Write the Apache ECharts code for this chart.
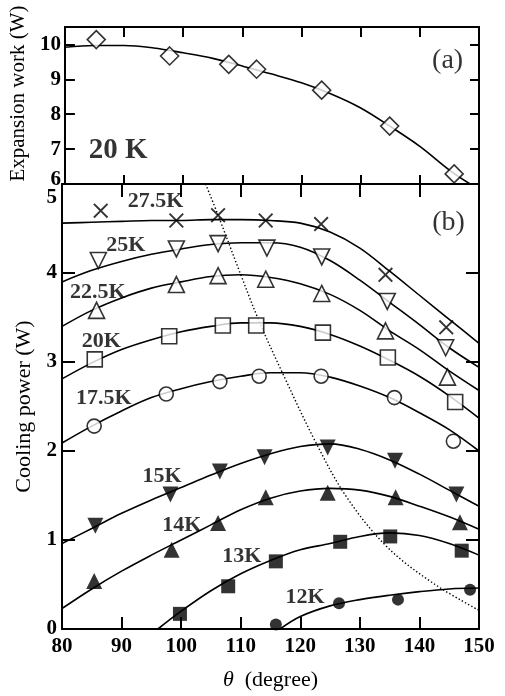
<!DOCTYPE html>
<html>
<head>
<meta charset="utf-8">
<script src="https://cdn.jsdelivr.net/npm/echarts@6/dist/echarts.min.js"></script>
<style>
  html, body { margin: 0; padding: 0; background: #fff; }
  #chart { width: 505px; height: 696px; }
</style>
</head>
<body>
<div id="chart"></div>
<script>
// ---- data ----
const xTicks = [80, 90, 100, 110, 120, 130, 140, 150];

// (a) expansion work at 20 K
const workPts = [[85.3, 10.14], [97.7, 9.67], [107.7, 9.43], [112.4, 9.29], [123.4, 8.69], [134.9, 7.66], [145.8, 6.29]];
const workFit = [[80, 9.92], [85, 9.97], [90, 9.97], [95, 9.9], [100, 9.76], [105, 9.6], [110, 9.38], [115, 9.15],
  [120, 8.9], [125, 8.58], [130, 8.18], [135, 7.65], [140, 7.08], [145, 6.4], [148.5, 6.0]];

// (b) cooling power
const k275 = [[86.5, 4.70], [99.2, 4.59], [106.2, 4.65], [114.2, 4.59], [123.5, 4.55], [134.3, 3.98], [144.5, 3.39]];
const k275Fit = [[80, 4.56], [85, 4.57], [90, 4.58], [95, 4.59], [100, 4.59], [105, 4.6], [110, 4.6], [115, 4.59],
  [120, 4.56], [125, 4.46], [130, 4.28], [135, 4.02], [140, 3.75], [145, 3.48], [150, 3.21]];

const k25 = [[86.1, 4.14], [99.2, 4.27], [106.2, 4.33], [114.4, 4.28], [123.6, 4.18], [134.6, 3.68], [144.4, 3.16]];
const k25Fit = [[80, 3.9], [85, 4.03], [90, 4.13], [95, 4.21], [100, 4.27], [105, 4.32], [110, 4.34], [115, 4.34],
  [120, 4.29], [125, 4.14], [130, 3.92], [135, 3.67], [140, 3.42], [145, 3.16], [150, 2.94]];

const k225 = [[85.8, 3.58], [99.2, 3.87], [106.2, 3.97], [114.2, 3.93], [123.6, 3.77], [134.3, 3.35], [144.7, 2.83]];
const k225Fit = [[80, 3.4], [85, 3.58], [90, 3.72], [95, 3.83], [100, 3.9], [105, 3.96], [110, 3.98], [115, 3.95],
  [120, 3.88], [125, 3.76], [130, 3.58], [135, 3.35], [140, 3.14], [145, 2.9], [150, 2.68]];

const k20 = [[85.5, 3.03], [98.0, 3.29], [107.0, 3.41], [112.6, 3.41], [123.8, 3.33], [134.7, 3.05], [146.0, 2.55]];
const k20Fit = [[80, 2.81], [85, 2.99], [90, 3.14], [95, 3.25], [100, 3.34], [105, 3.4], [110, 3.44], [115, 3.44],
  [120, 3.4], [125, 3.31], [130, 3.18], [135, 3.02], [140, 2.84], [145, 2.62], [150, 2.37]];

const k175 = [[85.4, 2.28], [97.5, 2.64], [106.5, 2.78], [113.1, 2.84], [123.5, 2.84], [135.8, 2.6], [145.7, 2.11]];
const k175Fit = [[80, 2.09], [85, 2.28], [90, 2.45], [95, 2.6], [100, 2.7], [105, 2.78], [110, 2.84], [115, 2.88],
  [120, 2.88], [125, 2.83], [130, 2.73], [135, 2.6], [140, 2.43], [145, 2.24], [150, 2.0]];

const k15 = [[85.6, 1.16], [98.2, 1.51], [106.5, 1.77], [114.0, 1.93], [124.6, 2.04], [135.9, 1.89], [146.2, 1.51]];
const k15Fit = [[80, 0.96], [85, 1.13], [90, 1.3], [95, 1.45], [100, 1.59], [105, 1.73], [110, 1.86], [115, 1.97],
  [120, 2.05], [125, 2.08], [130, 2.02], [135, 1.9], [140, 1.74], [145, 1.56], [150, 1.38]];

const k14 = [[85.4, 0.54], [98.4, 0.89], [106.2, 1.19], [114.2, 1.48], [124.6, 1.53], [136.0, 1.48], [146.8, 1.2]];
const k14Fit = [[80, 0.23], [85, 0.45], [90, 0.65], [95, 0.83], [100, 1.0], [105, 1.17], [110, 1.34], [115, 1.47],
  [120, 1.55], [125, 1.58], [130, 1.56], [135, 1.49], [140, 1.38], [145, 1.26], [150, 1.12]];

const k13 = [[99.8, 0.17], [107.9, 0.48], [115.9, 0.76], [126.7, 0.98], [135.1, 1.04], [147.1, 0.88]];
const k13Fit = [[96.1, 0], [100, 0.2], [105, 0.43], [110, 0.62], [115, 0.77], [120, 0.89], [125, 0.96],
  [130, 1.04], [135, 1.08], [140, 1.05], [145, 0.96], [150, 0.83]];

const k12 = [[115.9, 0.05], [126.5, 0.29], [136.4, 0.33], [148.5, 0.44]];
const k12Fit = [[116.6, 0], [120, 0.14], [125, 0.26], [130, 0.33], [135, 0.38], [140, 0.42], [145, 0.45], [150, 0.46]];

const optLine = [[104.1, 5.0], [106.2, 4.65], [109.9, 4.0], [113.2, 3.44], [117.2, 2.85], [122.5, 2.11],
  [127.8, 1.48], [134.6, 0.92], [142.4, 0.51], [150, 0.21]];

const curveLabels = [['27.5K', 95.7, 4.81], ['25K', 90.7, 4.31], ['22.5K', 86.0, 3.78], ['20K', 86.6, 3.23],
  ['17.5K', 87.0, 2.59], ['15K', 96.8, 1.72], ['14K', 100.1, 1.16], ['13K', 110.2, 0.82], ['12K', 120.8, 0.36]];

// ---- chart ----
const FONT = "'Liberation Serif', 'Times New Roman', serif";
const crossPath = 'path://M0,0.9L0.9,0L5,4.1L9.1,0L10,0.9L5.9,5L10,9.1L9.1,10L5,5.9L0.9,10L0,9.1L4.1,5Z';

function frameAxis(gridIndex, position, tickLen, showLabel) {
  return {
    gridIndex: gridIndex,
    position: position,
    axisLine: { show: true, onZero: false, lineStyle: { color: '#000', width: 2 } },
    axisTick: { show: true, inside: true, length: tickLen, lineStyle: { color: '#000', width: 2 } },
    axisLabel: { show: showLabel, color: '#000', fontFamily: FONT, fontSize: 21, fontWeight: 'bold' },
    splitLine: { show: false }
  };
}

const xAxes = [
  Object.assign(frameAxis(0, 'bottom', 9, false), { type: 'value', min: 80, max: 150, interval: 10 }),
  Object.assign(frameAxis(0, 'top', 10, false), { type: 'value', min: 80, max: 150, interval: 10 }),
  Object.assign(frameAxis(1, 'bottom', 12, true), {
    type: 'value', min: 80, max: 150, interval: 10,
    name: '{it|θ}  (degree)', nameLocation: 'middle', nameGap: 40,
    nameTextStyle: { color: '#000', fontFamily: FONT, fontSize: 22, rich: { it: { fontStyle: 'italic', fontFamily: FONT, fontSize: 22 } } }
  }),
  Object.assign(frameAxis(1, 'top', 13, false), { type: 'value', min: 80, max: 150, interval: 10 })
];
xAxes[2].axisLabel.margin = 7;
xAxes[2].axisLabel.formatter = v => xTicks.indexOf(v) >= 0 ? String(v) : '';

const yAxes = [
  Object.assign(frameAxis(0, 'left', 10, true), {
    type: 'value', min: 6, max: 10.5, interval: 1,
    name: 'Expansion work (W)', nameLocation: 'middle', nameGap: 24,
    nameTextStyle: { color: '#000', fontFamily: FONT, fontSize: 21, padding: [0, 0, 0, 24] }
  }),
  Object.assign(frameAxis(0, 'right', 9, false), { type: 'value', min: 6, max: 10.5, interval: 1 }),
  Object.assign(frameAxis(1, 'left', 13, true), {
    type: 'value', min: 0, max: 5, interval: 1,
    name: 'Cooling power (W)', nameLocation: 'middle', nameGap: 24,
    nameTextStyle: { color: '#000', fontFamily: FONT, fontSize: 22 }
  }),
  Object.assign(frameAxis(1, 'right', 13, false), { type: 'value', min: 0, max: 5, interval: 1 })
];
yAxes[0].axisLabel.margin = 4;
yAxes[0].axisLabel.formatter = v => v === 6 ? '{up|6}' : (Number.isInteger(v) ? String(v) : '');
yAxes[0].axisLabel.rich = { up: { padding: [0, 0, 8, 0], fontFamily: FONT, fontSize: 21, fontWeight: 'bold', color: '#000' } };
yAxes[2].axisLabel.margin = 5;
yAxes[2].axisLabel.formatter = v => v === 5 ? '{dn|5}' : String(v);
yAxes[2].axisLabel.rich = { dn: { padding: [28, 0, 0, 0], fontFamily: FONT, fontSize: 21, fontWeight: 'bold', color: '#000' } };

function fit(data, xi, yi, dotted) {
  return {
    type: 'line', xAxisIndex: xi, yAxisIndex: yi, data: data, smooth: 0.35,
    showSymbol: false, silent: true, z: 2,
    lineStyle: { color: '#000', width: dotted ? 1.4 : 1.6, type: dotted ? [1.4, 2.2] : 'solid' }
  };
}

function pts(data, xi, yi, symbol, size, hollow, rotate) {
  return {
    type: 'scatter', xAxisIndex: xi, yAxisIndex: yi, data: data, z: 3, silent: true,
    symbol: symbol, symbolSize: size, symbolRotate: rotate || 0,
    itemStyle: hollow
      ? { color: '#fff', borderColor: '#000', borderWidth: 1.6 }
      : { color: '#000', borderColor: '#000', borderWidth: 0 }
  };
}

function textSeries(items, xi, yi, size, weight) {
  return {
    type: 'scatter', xAxisIndex: xi, yAxisIndex: yi, symbolSize: 1, silent: true, z: 4,
    itemStyle: { color: 'rgba(0,0,0,0)' },
    data: items.map(d => ({ name: d[0], value: [d[1], d[2]] })),
    label: {
      show: true, position: 'inside', formatter: p => p.name,
      color: '#000', fontFamily: FONT, fontSize: size, fontWeight: weight || 'bold'
    }
  };
}

const chart = echarts.init(document.getElementById('chart'));
chart.setOption({
  backgroundColor: '#fff',
  animation: false,
  grid: [
    { left: 62, right: 26, top: 27, height: 157 },
    { left: 62, right: 26, top: 184, bottom: 63 }
  ],
  xAxis: xAxes,
  yAxis: yAxes,
  series: [
    fit(workFit, 0, 0),
    pts(workPts, 0, 0, 'diamond', 18, true),
    textSeries([['(a)', 144.7, 9.54]], 0, 0, 28, 'normal'),
    textSeries([['20 K', 89.0, 6.97]], 0, 0, 29),

    fit(k275Fit, 2, 2), fit(k25Fit, 2, 2), fit(k225Fit, 2, 2), fit(k20Fit, 2, 2), fit(k175Fit, 2, 2),
    fit(k15Fit, 2, 2), fit(k14Fit, 2, 2), fit(k13Fit, 2, 2), fit(k12Fit, 2, 2),
    fit(optLine, 2, 2, true),

    pts(k275, 2, 2, crossPath, 15, false),
    pts(k25, 2, 2, 'triangle', 16, true, 180),
    pts(k225, 2, 2, 'triangle', 16, true),
    pts(k20, 2, 2, 'rect', 15, true),
    pts(k175, 2, 2, 'circle', 14, true),
    pts(k15, 2, 2, 'triangle', 16, false, 180),
    pts(k14, 2, 2, 'triangle', 16, false),
    pts(k13, 2, 2, 'rect', 14, false),
    pts(k12, 2, 2, 'circle', 12, false),

    textSeries(curveLabels, 2, 2, 22),
    textSeries([['(b)', 144.9, 4.57]], 2, 2, 28, 'normal')
  ]
});
</script>
</body>
</html>
